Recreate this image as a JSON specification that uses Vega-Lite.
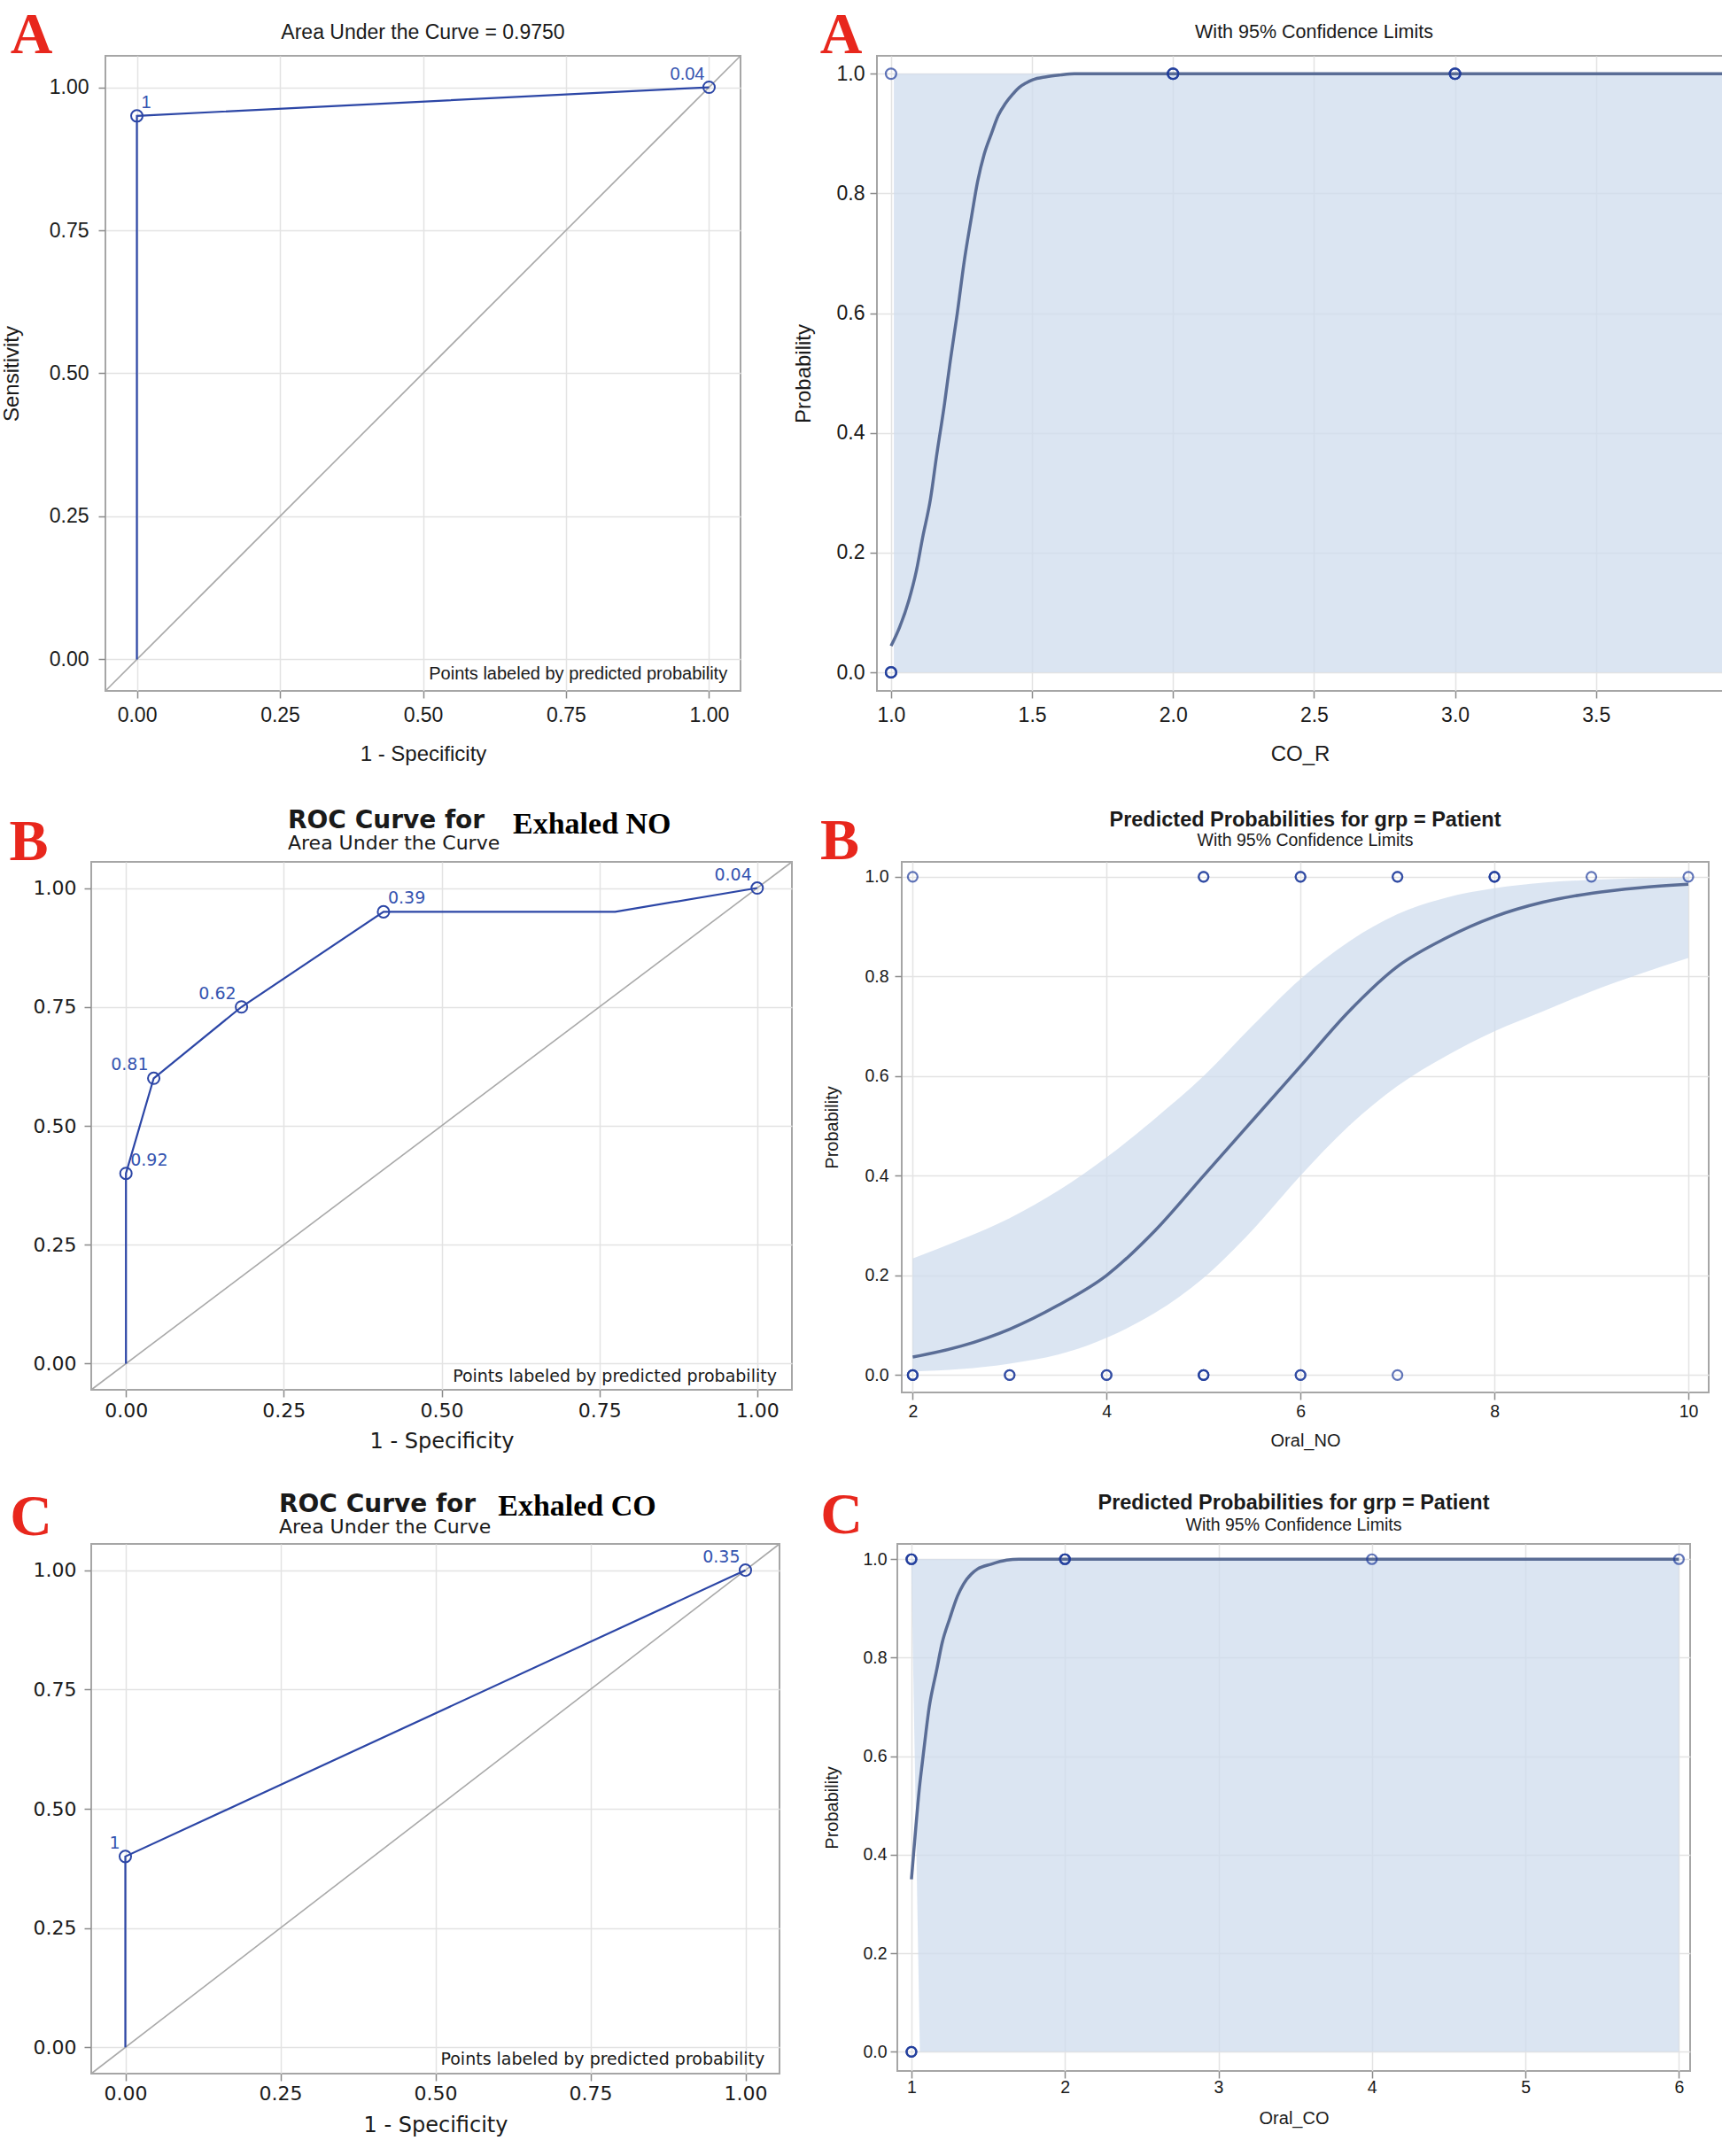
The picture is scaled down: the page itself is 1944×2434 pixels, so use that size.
{
  "$schema": "https://vega.github.io/schema/vega-lite/v6.json",
  "background": "white",
  "padding": {"left": 0, "top": 6, "right": 0, "bottom": 0},
  "datasets": {
    "diagonal": [{"fpr": -0.055, "sens": -0.055}, {"fpr": 1.055, "sens": 1.055}],
    "rocA": [
      {"step": 1, "fpr": 0, "sens": 0, "label": null},
      {"step": 2, "fpr": 0, "sens": 0.95, "label": "1"},
      {"step": 3, "fpr": 1, "sens": 1, "label": "0.04"}
    ],
    "rocB": [
      {"step": 1, "fpr": 0, "sens": 0, "label": null},
      {"step": 2, "fpr": 0, "sens": 0.40, "label": "0.92"},
      {"step": 3, "fpr": 0.044, "sens": 0.60, "label": "0.81"},
      {"step": 4, "fpr": 0.183, "sens": 0.75, "label": "0.62"},
      {"step": 5, "fpr": 0.408, "sens": 0.95, "label": "0.39"},
      {"step": 6, "fpr": 0.775, "sens": 0.95, "label": null},
      {"step": 7, "fpr": 1, "sens": 1, "label": "0.04"}
    ],
    "rocC": [
      {"step": 1, "fpr": 0, "sens": 0, "label": null},
      {"step": 2, "fpr": 0, "sens": 0.40, "label": "1"},
      {"step": 3, "fpr": 1, "sens": 1, "label": "0.35"}
    ],
    "fitA": [
      {"x": 1.0, "p": 0.044}, {"x": 1.03, "p": 0.075}, {"x": 1.063, "p": 0.12}, {"x": 1.09, "p": 0.17},
      {"x": 1.112, "p": 0.225}, {"x": 1.14, "p": 0.29}, {"x": 1.161, "p": 0.36}, {"x": 1.19, "p": 0.45},
      {"x": 1.21, "p": 0.52}, {"x": 1.235, "p": 0.60}, {"x": 1.259, "p": 0.685}, {"x": 1.285, "p": 0.76},
      {"x": 1.307, "p": 0.82}, {"x": 1.33, "p": 0.865}, {"x": 1.356, "p": 0.90}, {"x": 1.38, "p": 0.93},
      {"x": 1.405, "p": 0.95}, {"x": 1.43, "p": 0.965}, {"x": 1.454, "p": 0.977}, {"x": 1.48, "p": 0.985},
      {"x": 1.502, "p": 0.99}, {"x": 1.55, "p": 0.995}, {"x": 1.6, "p": 0.998}, {"x": 1.65, "p": 1.0},
      {"x": 2.0, "p": 1.0}, {"x": 3.0, "p": 1.0}, {"x": 4.0, "p": 1.0}
    ],
    "bandA": [{"x": 1.01, "lo": 0.0, "hi": 1.0}, {"x": 4.0, "lo": 0.0, "hi": 1.0}],
    "obsA": [
      {"x": 1, "y": 1}, {"x": 2, "y": 1}, {"x": 2, "y": 1}, {"x": 2, "y": 1},
      {"x": 3, "y": 1}, {"x": 3, "y": 1}, {"x": 3, "y": 1},
      {"x": 1, "y": 0}, {"x": 1, "y": 0}, {"x": 1, "y": 0}
    ],
    "fitB": [
      {"x": 2.0, "p": 0.036}, {"x": 2.5, "p": 0.058}, {"x": 3.0, "p": 0.092}, {"x": 3.5, "p": 0.14},
      {"x": 4.0, "p": 0.20}, {"x": 4.5, "p": 0.29}, {"x": 5.0, "p": 0.40}, {"x": 5.5, "p": 0.51},
      {"x": 6.0, "p": 0.62}, {"x": 6.5, "p": 0.73}, {"x": 7.0, "p": 0.82}, {"x": 7.5, "p": 0.877},
      {"x": 8.0, "p": 0.92}, {"x": 8.5, "p": 0.949}, {"x": 9.0, "p": 0.967}, {"x": 9.5, "p": 0.978},
      {"x": 10.0, "p": 0.985}
    ],
    "bandB": [
      {"x": 2.0, "lo": 0.007, "hi": 0.234}, {"x": 2.5, "lo": 0.012, "hi": 0.272}, {"x": 3.0, "lo": 0.023, "hi": 0.315},
      {"x": 3.5, "lo": 0.041, "hi": 0.37}, {"x": 4.0, "lo": 0.075, "hi": 0.437}, {"x": 4.5, "lo": 0.125, "hi": 0.515},
      {"x": 5.0, "lo": 0.195, "hi": 0.60}, {"x": 5.5, "lo": 0.29, "hi": 0.70}, {"x": 6.0, "lo": 0.40, "hi": 0.795},
      {"x": 6.5, "lo": 0.50, "hi": 0.87}, {"x": 7.0, "lo": 0.58, "hi": 0.925}, {"x": 7.5, "lo": 0.64, "hi": 0.958},
      {"x": 8.0, "lo": 0.69, "hi": 0.977}, {"x": 8.5, "lo": 0.73, "hi": 0.988}, {"x": 9.0, "lo": 0.77, "hi": 0.994},
      {"x": 9.5, "lo": 0.805, "hi": 0.997}, {"x": 10.0, "lo": 0.837, "hi": 0.998}
    ],
    "obsB": [
      {"x": 2, "y": 1}, {"x": 5, "y": 1}, {"x": 5, "y": 1}, {"x": 6, "y": 1}, {"x": 6, "y": 1},
      {"x": 7, "y": 1}, {"x": 7, "y": 1}, {"x": 8, "y": 1}, {"x": 8, "y": 1}, {"x": 8, "y": 1},
      {"x": 9, "y": 1}, {"x": 10, "y": 1},
      {"x": 2, "y": 0}, {"x": 2, "y": 0}, {"x": 2, "y": 0}, {"x": 3, "y": 0}, {"x": 3, "y": 0},
      {"x": 4, "y": 0}, {"x": 4, "y": 0}, {"x": 5, "y": 0}, {"x": 5, "y": 0}, {"x": 5, "y": 0},
      {"x": 6, "y": 0}, {"x": 6, "y": 0}, {"x": 7, "y": 0}
    ],
    "fitC": [
      {"x": 1.0, "p": 0.35}, {"x": 1.027, "p": 0.45}, {"x": 1.05, "p": 0.53}, {"x": 1.072, "p": 0.59},
      {"x": 1.095, "p": 0.65}, {"x": 1.116, "p": 0.70}, {"x": 1.14, "p": 0.74}, {"x": 1.161, "p": 0.77},
      {"x": 1.2, "p": 0.83}, {"x": 1.25, "p": 0.88}, {"x": 1.3, "p": 0.925}, {"x": 1.34, "p": 0.95},
      {"x": 1.39, "p": 0.97}, {"x": 1.43, "p": 0.98}, {"x": 1.52, "p": 0.99}, {"x": 1.62, "p": 0.998},
      {"x": 1.7, "p": 1.0}, {"x": 6.0, "p": 1.0}
    ],
    "bandC": [{"x": 1.0, "lo": 0.98, "hi": 1.0}, {"x": 1.055, "lo": 0.0, "hi": 1.0}, {"x": 6.0, "lo": 0.0, "hi": 1.0}],
    "obsC": [
      {"x": 1, "y": 1}, {"x": 1, "y": 1}, {"x": 1, "y": 1}, {"x": 2, "y": 1}, {"x": 2, "y": 1}, {"x": 2, "y": 1},
      {"x": 4, "y": 1}, {"x": 6, "y": 1},
      {"x": 1, "y": 0}, {"x": 1, "y": 0}, {"x": 1, "y": 0}
    ]
  },
  "vconcat": [
    {
      "hconcat": [
        {"width": 1, "height": 1, "view": {"stroke": null}, "data": {"values": [{}]}, "mark": {"type": "point", "opacity": 0}, "encoding": {}},
        {
          "hconcat": [
            {
              "width": 717, "height": 717,
              "title": {"text": "Area Under the Curve = 0.9750", "font": "Liberation Sans", "fontSize": 23, "fontWeight": "normal", "anchor": "middle", "frame": "group", "offset": -42},
              "layer": [
                {"data": {"name": "diagonal"}, "mark": {"type": "line", "color": "#a9a9a9", "strokeWidth": 1.6},
                 "encoding": {
                   "x": {"field": "fpr", "type": "quantitative", "title": "1 - Specificity", "scale": {"domain": [-0.055, 1.055], "nice": false, "zero": false},
                         "axis": {"values": [0, 0.25, 0.5, 0.75, 1], "format": ".2f", "labelFont": "Liberation Sans", "labelFontSize": 23, "labelPadding": 8, "titleFont": "Liberation Sans", "titleFontSize": 24, "titlePadding": 20}},
                   "y": {"field": "sens", "type": "quantitative", "title": "Sensitivity", "scale": {"domain": [-0.055, 1.055], "nice": false, "zero": false},
                         "axis": {"values": [0, 0.25, 0.5, 0.75, 1], "format": ".2f", "labelFont": "Liberation Sans", "labelFontSize": 23, "labelPadding": 11, "titleFont": "Liberation Sans", "titleFontSize": 24, "titlePadding": 30}}
                 }},
                {"data": {"name": "rocA"}, "mark": {"type": "line", "color": "#2c46a6", "strokeWidth": 2.2},
                 "encoding": {"x": {"field": "fpr", "type": "quantitative", "title": "1 - Specificity"}, "y": {"field": "sens", "type": "quantitative", "title": "Sensitivity"}, "order": {"field": "step", "type": "quantitative"}}},
                {"data": {"name": "rocA"}, "transform": [{"filter": "datum.label != null"}],
                 "mark": {"type": "point", "shape": "circle", "filled": false, "color": "#2c46a6", "size": 170, "strokeWidth": 2, "opacity": 1},
                 "encoding": {"x": {"field": "fpr", "type": "quantitative", "title": "1 - Specificity"}, "y": {"field": "sens", "type": "quantitative", "title": "Sensitivity"}}},
                {"data": {"name": "rocA"}, "transform": [{"filter": "datum.label == '1'"}],
                 "mark": {"type": "text", "align": "left", "baseline": "bottom", "dx": 5, "dy": -5, "font": "Liberation Sans", "fontSize": 20, "color": "#3554b0"},
                 "encoding": {"x": {"field": "fpr", "type": "quantitative", "title": "1 - Specificity"}, "y": {"field": "sens", "type": "quantitative", "title": "Sensitivity"}, "text": {"field": "label"}}},
                {"data": {"name": "rocA"}, "transform": [{"filter": "datum.label == '0.04'"}],
                 "mark": {"type": "text", "align": "right", "baseline": "bottom", "dx": -5, "dy": -5, "font": "Liberation Sans", "fontSize": 20, "color": "#3554b0"},
                 "encoding": {"x": {"field": "fpr", "type": "quantitative", "title": "1 - Specificity"}, "y": {"field": "sens", "type": "quantitative", "title": "Sensitivity"}, "text": {"field": "label"}}},
                {"data": {"values": [{"note": "Points labeled by predicted probability"}]},
                 "mark": {"type": "text", "align": "right", "baseline": "middle", "font": "Liberation Sans", "fontSize": 20, "color": "#1a1a1a"},
                 "encoding": {"x": {"datum": 1.032, "type": "quantitative", "title": "1 - Specificity"}, "y": {"datum": -0.026, "type": "quantitative", "title": "Sensitivity"}, "text": {"field": "note"}}},
                {"data": {"values": [{"panel": "A"}]},
                 "mark": {"type": "text", "align": "center", "baseline": "alphabetic", "font": "Liberation Serif", "fontWeight": "bold", "fontSize": 66, "color": "#e8271d"},
                 "encoding": {"x": {"datum": -0.184, "type": "quantitative", "title": "1 - Specificity"}, "y": {"datum": 1.0596, "type": "quantitative", "title": "Sensitivity"}, "text": {"field": "panel"}}}
              ]
            },
            {
              "width": 955, "height": 717,
              "title": {"text": "With 95% Confidence Limits", "font": "Liberation Sans", "fontSize": 21.5, "fontWeight": "normal", "anchor": "middle", "frame": "group", "dx": 16, "offset": -40},
              "layer": [
                {"data": {"name": "bandA"}, "mark": {"type": "area", "color": "#cfdcee", "opacity": 0.75, "clip": true},
                 "encoding": {
                   "x": {"field": "x", "type": "quantitative", "title": "CO_R", "scale": {"domain": [0.95, 3.95], "nice": false, "zero": false},
                         "axis": {"values": [1, 1.5, 2, 2.5, 3, 3.5], "format": ".1f", "labelFont": "Liberation Sans", "labelFontSize": 23, "labelPadding": 8, "titleFont": "Liberation Sans", "titleFontSize": 24, "titlePadding": 20}},
                   "y": {"field": "lo", "type": "quantitative", "title": "Probability", "scale": {"domain": [-0.031, 1.03], "nice": false, "zero": false},
                         "axis": {"values": [0, 0.2, 0.4, 0.6, 0.8, 1], "format": ".1f", "labelFont": "Liberation Sans", "labelFontSize": 23, "labelPadding": 6, "titleFont": "Liberation Sans", "titleFontSize": 24, "titlePadding": 25}},
                   "y2": {"field": "hi"}
                 }},
                {"data": {"name": "fitA"}, "mark": {"type": "line", "color": "#5a6d96", "strokeWidth": 3.5, "clip": true, "interpolate": "monotone"},
                 "encoding": {"x": {"field": "x", "type": "quantitative", "title": "CO_R"}, "y": {"field": "p", "type": "quantitative", "title": "Probability"}}},
                {"data": {"name": "obsA"}, "mark": {"type": "point", "shape": "circle", "filled": false, "color": "#1f3c9c", "size": 140, "strokeWidth": 2.2, "opacity": 0.7},
                 "encoding": {"x": {"field": "x", "type": "quantitative", "title": "CO_R"}, "y": {"field": "y", "type": "quantitative", "title": "Probability"}}},
                {"data": {"values": [{"panel": "A"}]},
                 "mark": {"type": "text", "align": "center", "baseline": "alphabetic", "font": "Liberation Serif", "fontWeight": "bold", "fontSize": 66, "color": "#e8271d"},
                 "encoding": {"x": {"datum": 0.823, "type": "quantitative", "title": "CO_R"}, "y": {"datum": 1.0344, "type": "quantitative", "title": "Probability"}, "text": {"field": "panel"}}}
              ]
            }
          ],
          "spacing": 154,
          "bounds": "flush"
        }
      ],
      "spacing": 15,
      "bounds": "flush"
    },
    {
      "vconcat": [
        {
          "hconcat": [
            {
              "width": 791, "height": 596,
              "title": {"text": "ROC Curve for", "subtitle": "Area Under the Curve", "font": "DejaVu Sans", "fontSize": 28, "fontWeight": "bold", "subtitleFont": "DejaVu Sans", "subtitleFontSize": 22, "subtitlePadding": 1, "anchor": "start", "frame": "group", "dx": 222, "offset": -49},
              "layer": [
                {"data": {"name": "diagonal"}, "mark": {"type": "line", "color": "#a9a9a9", "strokeWidth": 1.6},
                 "encoding": {
                   "x": {"field": "fpr", "type": "quantitative", "title": "1 - Specificity", "scale": {"domain": [-0.055, 1.055], "nice": false, "zero": false},
                         "axis": {"values": [0, 0.25, 0.5, 0.75, 1], "format": ".2f", "labelFont": "DejaVu Sans", "labelFontSize": 22, "labelPadding": 5, "titleFont": "DejaVu Sans", "titleFontSize": 24, "titlePadding": 12}},
                   "y": {"field": "sens", "type": "quantitative", "title": null, "scale": {"domain": [-0.055, 1.055], "nice": false, "zero": false},
                         "axis": {"values": [0, 0.25, 0.5, 0.75, 1], "format": ".2f", "labelFont": "DejaVu Sans", "labelFontSize": 22, "labelPadding": 9}}
                 }},
                {"data": {"name": "rocB"}, "mark": {"type": "line", "color": "#2c46a6", "strokeWidth": 2.2},
                 "encoding": {"x": {"field": "fpr", "type": "quantitative", "title": "1 - Specificity"}, "y": {"field": "sens", "type": "quantitative", "title": null}, "order": {"field": "step", "type": "quantitative"}}},
                {"data": {"name": "rocB"}, "transform": [{"filter": "datum.label != null"}],
                 "mark": {"type": "point", "shape": "circle", "filled": false, "color": "#2c46a6", "size": 170, "strokeWidth": 2, "opacity": 1},
                 "encoding": {"x": {"field": "fpr", "type": "quantitative", "title": "1 - Specificity"}, "y": {"field": "sens", "type": "quantitative", "title": null}}},
                {"data": {"name": "rocB"}, "transform": [{"filter": "datum.label == '0.39' || datum.label == '0.92'"}],
                 "mark": {"type": "text", "align": "left", "baseline": "bottom", "dx": 5, "dy": -5, "font": "DejaVu Sans", "fontSize": 19, "color": "#3554b0"},
                 "encoding": {"x": {"field": "fpr", "type": "quantitative", "title": "1 - Specificity"}, "y": {"field": "sens", "type": "quantitative", "title": null}, "text": {"field": "label"}}},
                {"data": {"name": "rocB"}, "transform": [{"filter": "datum.label == '0.62' || datum.label == '0.81' || datum.label == '0.04'"}],
                 "mark": {"type": "text", "align": "right", "baseline": "bottom", "dx": -6, "dy": -5, "font": "DejaVu Sans", "fontSize": 19, "color": "#3554b0"},
                 "encoding": {"x": {"field": "fpr", "type": "quantitative", "title": "1 - Specificity"}, "y": {"field": "sens", "type": "quantitative", "title": null}, "text": {"field": "label"}}},
                {"data": {"values": [{"note": "Points labeled by predicted probability"}]},
                 "mark": {"type": "text", "align": "right", "baseline": "middle", "font": "DejaVu Sans", "fontSize": 19, "color": "#1a1a1a"},
                 "encoding": {"x": {"datum": 1.031, "type": "quantitative", "title": "1 - Specificity"}, "y": {"datum": -0.027, "type": "quantitative", "title": null}, "text": {"field": "note"}}},
                {"data": {"values": [{"name": "Exhaled NO"}]},
                 "mark": {"type": "text", "align": "left", "baseline": "alphabetic", "font": "Liberation Serif", "fontWeight": "bold", "fontSize": 34, "color": "#000000"},
                 "encoding": {"x": {"datum": 0.613, "type": "quantitative", "title": "1 - Specificity"}, "y": {"datum": 1.115, "type": "quantitative", "title": null}, "text": {"field": "name"}}},
                {"data": {"values": [{"panel": "B"}]},
                 "mark": {"type": "text", "align": "center", "baseline": "alphabetic", "font": "Liberation Serif", "fontWeight": "bold", "fontSize": 66, "color": "#e8271d"},
                 "encoding": {"x": {"datum": -0.154, "type": "quantitative", "title": "1 - Specificity"}, "y": {"datum": 1.058, "type": "quantitative", "title": null}, "text": {"field": "panel"}}}
              ]
            },
            {
              "width": 911, "height": 599,
              "title": {"text": "Predicted Probabilities for grp = Patient", "subtitle": "With 95% Confidence Limits", "font": "Liberation Sans", "fontSize": 23.5, "fontWeight": "bold", "subtitleFont": "Liberation Sans", "subtitleFontSize": 19.5, "subtitlePadding": 3, "anchor": "middle", "frame": "group", "offset": -42},
              "layer": [
                {"data": {"name": "bandB"}, "mark": {"type": "area", "color": "#cfdcee", "opacity": 0.75, "clip": true, "interpolate": "monotone"},
                 "encoding": {
                   "x": {"field": "x", "type": "quantitative", "title": "Oral_NO", "scale": {"domain": [1.887, 10.21], "nice": false, "zero": false},
                         "axis": {"values": [2, 4, 6, 8, 10], "format": "d", "labelFont": "Liberation Sans", "labelFontSize": 19.5, "labelPadding": 4, "titleFont": "Liberation Sans", "titleFontSize": 20, "titlePadding": 14}},
                   "y": {"field": "lo", "type": "quantitative", "title": "Probability", "scale": {"domain": [-0.035, 1.03], "nice": false, "zero": false},
                         "axis": {"values": [0, 0.2, 0.4, 0.6, 0.8, 1], "format": ".1f", "labelFont": "Liberation Sans", "labelFontSize": 19.5, "labelPadding": 7, "titleFont": "Liberation Sans", "titleFontSize": 20, "titlePadding": 26}},
                   "y2": {"field": "hi"}
                 }},
                {"data": {"name": "fitB"}, "mark": {"type": "line", "color": "#5a6d96", "strokeWidth": 3.5, "interpolate": "monotone"},
                 "encoding": {"x": {"field": "x", "type": "quantitative", "title": "Oral_NO"}, "y": {"field": "p", "type": "quantitative", "title": "Probability"}}},
                {"data": {"name": "obsB"}, "mark": {"type": "point", "shape": "circle", "filled": false, "color": "#1f3c9c", "size": 121, "strokeWidth": 2.2, "opacity": 0.7},
                 "encoding": {"x": {"field": "x", "type": "quantitative", "title": "Oral_NO"}, "y": {"field": "y", "type": "quantitative", "title": "Probability"}}},
                {"data": {"values": [{"panel": "B"}]},
                 "mark": {"type": "text", "align": "center", "baseline": "alphabetic", "font": "Liberation Serif", "fontWeight": "bold", "fontSize": 66, "color": "#e8271d"},
                 "encoding": {"x": {"datum": 1.247, "type": "quantitative", "title": "Oral_NO"}, "y": {"datum": 1.036, "type": "quantitative", "title": "Probability"}, "text": {"field": "panel"}}}
              ]
            }
          ],
          "spacing": 124,
          "bounds": "flush"
        },
        {
          "hconcat": [
            {
              "width": 777, "height": 598,
              "title": {"text": "ROC Curve for", "subtitle": "Area Under the Curve", "font": "DejaVu Sans", "fontSize": 28, "fontWeight": "bold", "subtitleFont": "DejaVu Sans", "subtitleFontSize": 22, "subtitlePadding": 1, "anchor": "start", "frame": "group", "dx": 212, "offset": -55},
              "layer": [
                {"data": {"name": "diagonal"}, "mark": {"type": "line", "color": "#a9a9a9", "strokeWidth": 1.6},
                 "encoding": {
                   "x": {"field": "fpr", "type": "quantitative", "title": "1 - Specificity", "scale": {"domain": [-0.055, 1.055], "nice": false, "zero": false},
                         "axis": {"values": [0, 0.25, 0.5, 0.75, 1], "format": ".2f", "labelFont": "DejaVu Sans", "labelFontSize": 22, "labelPadding": 4, "titleFont": "DejaVu Sans", "titleFontSize": 24, "titlePadding": 13}},
                   "y": {"field": "sens", "type": "quantitative", "title": null, "scale": {"domain": [-0.055, 1.055], "nice": false, "zero": false},
                         "axis": {"values": [0, 0.25, 0.5, 0.75, 1], "format": ".2f", "labelFont": "DejaVu Sans", "labelFontSize": 22, "labelPadding": 9}}
                 }},
                {"data": {"name": "rocC"}, "mark": {"type": "line", "color": "#2c46a6", "strokeWidth": 2.2},
                 "encoding": {"x": {"field": "fpr", "type": "quantitative", "title": "1 - Specificity"}, "y": {"field": "sens", "type": "quantitative", "title": null}, "order": {"field": "step", "type": "quantitative"}}},
                {"data": {"name": "rocC"}, "transform": [{"filter": "datum.label != null"}],
                 "mark": {"type": "point", "shape": "circle", "filled": false, "color": "#2c46a6", "size": 170, "strokeWidth": 2, "opacity": 1},
                 "encoding": {"x": {"field": "fpr", "type": "quantitative", "title": "1 - Specificity"}, "y": {"field": "sens", "type": "quantitative", "title": null}}},
                {"data": {"name": "rocC"}, "transform": [{"filter": "datum.label != null"}],
                 "mark": {"type": "text", "align": "right", "baseline": "bottom", "dx": -6, "dy": -5, "font": "DejaVu Sans", "fontSize": 19, "color": "#3554b0"},
                 "encoding": {"x": {"field": "fpr", "type": "quantitative", "title": "1 - Specificity"}, "y": {"field": "sens", "type": "quantitative", "title": null}, "text": {"field": "label"}}},
                {"data": {"values": [{"note": "Points labeled by predicted probability"}]},
                 "mark": {"type": "text", "align": "right", "baseline": "middle", "font": "DejaVu Sans", "fontSize": 19, "color": "#1a1a1a"},
                 "encoding": {"x": {"datum": 1.031, "type": "quantitative", "title": "1 - Specificity"}, "y": {"datum": -0.025, "type": "quantitative", "title": null}, "text": {"field": "note"}}},
                {"data": {"values": [{"name": "Exhaled CO"}]},
                 "mark": {"type": "text", "align": "left", "baseline": "alphabetic", "font": "Liberation Serif", "fontWeight": "bold", "fontSize": 34, "color": "#000000"},
                 "encoding": {"x": {"datum": 0.601, "type": "quantitative", "title": "1 - Specificity"}, "y": {"datum": 1.115, "type": "quantitative", "title": null}, "text": {"field": "name"}}},
                {"data": {"values": [{"panel": "C"}]},
                 "mark": {"type": "text", "align": "center", "baseline": "alphabetic", "font": "Liberation Serif", "fontWeight": "bold", "fontSize": 66, "color": "#e8271d"},
                 "encoding": {"x": {"datum": -0.152, "type": "quantitative", "title": "1 - Specificity"}, "y": {"datum": 1.074, "type": "quantitative", "title": null}, "text": {"field": "panel"}}}
              ]
            },
            {
              "width": 895, "height": 595,
              "title": {"text": "Predicted Probabilities for grp = Patient", "subtitle": "With 95% Confidence Limits", "font": "Liberation Sans", "fontSize": 23.5, "fontWeight": "bold", "subtitleFont": "Liberation Sans", "subtitleFontSize": 19.5, "subtitlePadding": 4, "anchor": "middle", "frame": "group", "offset": -53},
              "layer": [
                {"data": {"name": "bandC"}, "mark": {"type": "area", "color": "#cfdcee", "opacity": 0.75, "clip": true},
                 "encoding": {
                   "x": {"field": "x", "type": "quantitative", "title": "Oral_CO", "scale": {"domain": [0.908, 6.073], "nice": false, "zero": false},
                         "axis": {"values": [1, 2, 3, 4, 5, 6], "format": "d", "labelFont": "Liberation Sans", "labelFontSize": 19.5, "labelPadding": 1, "titleFont": "Liberation Sans", "titleFontSize": 20, "titlePadding": 16}},
                   "y": {"field": "lo", "type": "quantitative", "title": "Probability", "scale": {"domain": [-0.039, 1.031], "nice": false, "zero": false},
                         "axis": {"values": [0, 0.2, 0.4, 0.6, 0.8, 1], "format": ".1f", "labelFont": "Liberation Sans", "labelFontSize": 19.5, "labelPadding": 4, "titleFont": "Liberation Sans", "titleFontSize": 20, "titlePadding": 24}},
                   "y2": {"field": "hi"}
                 }},
                {"data": {"name": "fitC"}, "mark": {"type": "line", "color": "#5a6d96", "strokeWidth": 3.5, "interpolate": "monotone"},
                 "encoding": {"x": {"field": "x", "type": "quantitative", "title": "Oral_CO"}, "y": {"field": "p", "type": "quantitative", "title": "Probability"}}},
                {"data": {"name": "obsC"}, "mark": {"type": "point", "shape": "circle", "filled": false, "color": "#1f3c9c", "size": 121, "strokeWidth": 2.2, "opacity": 0.7},
                 "encoding": {"x": {"field": "x", "type": "quantitative", "title": "Oral_CO"}, "y": {"field": "y", "type": "quantitative", "title": "Probability"}}},
                {"data": {"values": [{"panel": "C"}]},
                 "mark": {"type": "text", "align": "center", "baseline": "alphabetic", "font": "Liberation Serif", "fontWeight": "bold", "fontSize": 66, "color": "#e8271d"},
                 "encoding": {"x": {"datum": 0.545, "type": "quantitative", "title": "Oral_CO"}, "y": {"datum": 1.052, "type": "quantitative", "title": "Probability"}, "text": {"field": "panel"}}}
              ]
            }
          ],
          "spacing": 133,
          "bounds": "flush"
        }
      ],
      "spacing": 770,
      "bounds": "flush"
    }
  ],
  "spacing": 910,
  "bounds": "flush",
  "config": {
    "view": {"stroke": "#a6a6a6", "strokeWidth": 2},
    "axis": {"domain": false, "grid": true, "gridColor": "#e3e3e3", "gridWidth": 1.5, "tickColor": "#8a8a8a", "tickSize": 8, "tickWidth": 1.5, "labelColor": "#1a1a1a", "titleColor": "#1a1a1a", "titleFontWeight": "normal", "labelFlush": false, "labelOverlap": false, "labelBound": false},
    "title": {"color": "#1a1a1a", "subtitleColor": "#1a1a1a"}
  }
}
